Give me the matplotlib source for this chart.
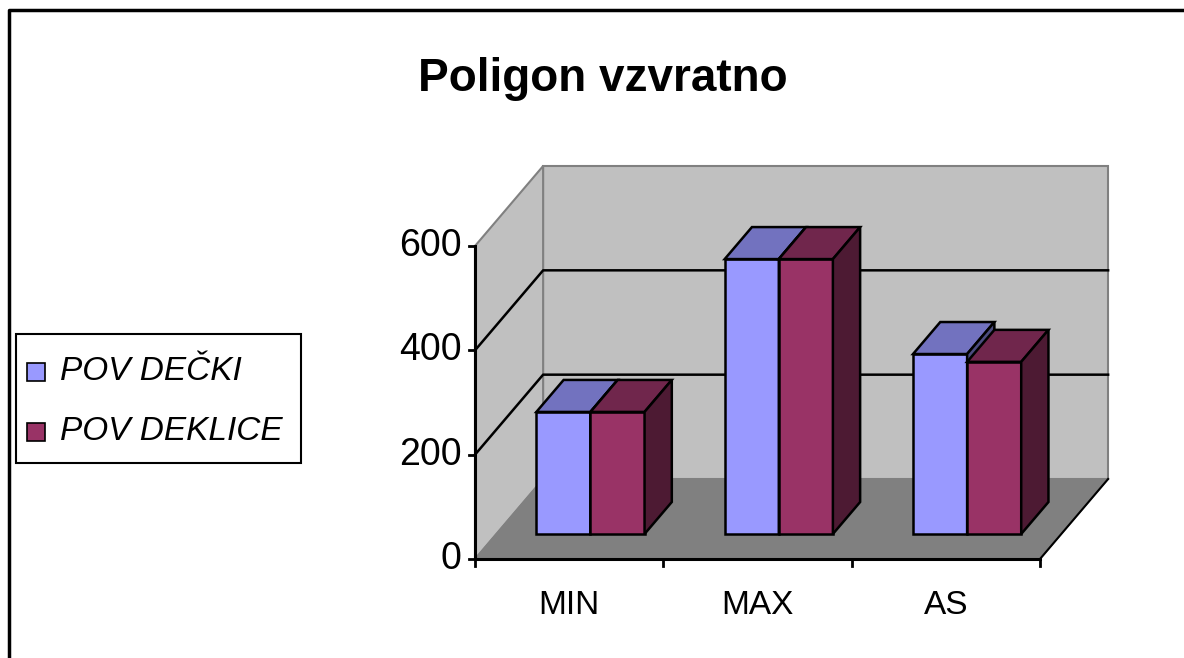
import matplotlib
matplotlib.use("Agg")
import matplotlib.pyplot as plt
from matplotlib.patches import Polygon, Rectangle
from matplotlib.lines import Line2D

categories = ["MIN", "MAX", "AS"]
series_names = ["POV DEČKI", "POV DEKLICE"]
decki = [234, 527, 345]
deklice = [234, 527, 330]
yticks = [0, 200, 400, 600]

fonts = ['Liberation Sans Narrow', 'Liberation Sans', 'DejaVu Sans']

front_cols = ["#9999FF", "#993366"]
top_cols = ["#7272BF", "#70264C"]
side_cols = ["#4C4C80", "#4D1A33"]

W, H = 1184, 658
fig = plt.figure(figsize=(W / 100, H / 100), dpi=100)
# front plot region in pixels: x 475..1040, y 246..559
ax = fig.add_axes([475 / W, (H - 559) / H, 565 / W, 313 / H])
ax.set_xlim(0, 3)
ax.set_ylim(0, 600)
ax.axis("off")

# depth vector (full depth of the box) in data units
DX = 68 / 188
DY = 80 / 313 * 600
z0, zd = 0.3125, 0.40
gap, bw = 40 / 188, 54 / 188
ymax = 600


def poly(pts, fc, ec="none", lw=1.0, z=1):
    ax.add_patch(Polygon(pts, closed=True, facecolor=fc, edgecolor=ec,
                         linewidth=lw, zorder=z, clip_on=False,
                         joinstyle="miter"))


n = len(categories)
# walls
poly([(DX, DY), (n + DX, DY), (n + DX, ymax + DY), (DX, ymax + DY)],
     "#C0C0C0", "#808080", 1.5, 1)
poly([(0, 0), (DX, DY), (DX, ymax + DY), (0, ymax)], "#C0C0C0", "#808080", 1.5, 1)
poly([(0, 0), (n, 0), (n + DX, DY), (DX, DY)], "#808080", "#808080", 1.0, 1)

# gridlines
for v in yticks[1:-1]:
    ax.plot([0, DX, n + DX], [v, v + DY, v + DY], color="black", lw=1.8,
            zorder=2, clip_on=False)

# floor right edge
ax.plot([n, n + DX], [0, DY], color="black", lw=1.5, zorder=2, clip_on=False)

# bars
for i in range(n):
    vals = [decki[i], deklice[i]]
    for s in range(2):
        h = vals[s]
        x0 = i + gap + s * bw + z0 * DX
        x1 = x0 + bw
        yb = z0 * DY
        ox, oy = zd * DX, zd * DY
        zz = 5 + i * 2 + s
        # front
        poly([(x0, yb), (x1, yb), (x1, yb + h), (x0, yb + h)], front_cols[s],
             "black", 1.8, zz)
        # top
        poly([(x0, yb + h), (x1, yb + h), (x1 + ox, yb + h + oy), (x0 + ox, yb + h + oy)],
             top_cols[s], "black", 1.8, zz)
        # side
        poly([(x1, yb), (x1 + ox, yb + oy), (x1 + ox, yb + h + oy), (x1, yb + h)],
             side_cols[s], "black", 1.8, zz)

# axes lines and ticks
ax.plot([0, n], [0, 0], color="black", lw=2.2, zorder=3, clip_on=False)
ax.plot([0, 0], [0, ymax], color="black", lw=2.2, zorder=3, clip_on=False)
tx = 6 / 188
for v in yticks:
    ax.plot([-tx, 0], [v, v], color="black", lw=2, zorder=3, clip_on=False)
    ax.text(-0.07, v, str(v), ha="right", va="center", fontsize=27,
            family=fonts)
ty = 14
for i in range(n + 1):
    ax.plot([i, i], [0, -ty], color="black", lw=2, zorder=3, clip_on=False)
for i, c in enumerate(categories):
    ax.text(i + 0.5, -90, c, ha="center", va="center", fontsize=24,
            family=fonts)

# title
fig.text(603 / W, 1 - 79 / H, "Poligon vzvratno", ha="center", va="center",
         fontsize=33, fontweight="bold", family=fonts)

# legend (drawn by hand to match the box)
fig.add_artist(Rectangle((16 / W, 1 - 463 / H), 285 / W, 129 / H,
                         transform=fig.transFigure, facecolor="white",
                         edgecolor="black", linewidth=1.5))
leg_y = [372, 432]
for k, name in enumerate(series_names):
    yc = leg_y[k]
    fig.add_artist(Rectangle((27 / W, 1 - (yc + 9) / H), 18 / W, 18 / H,
                             transform=fig.transFigure,
                             facecolor=front_cols[k], edgecolor="black",
                             linewidth=1.2))
    fig.text(60 / W, 1 - yc / H, name, ha="left", va="center", fontsize=24,
             style="italic", family=fonts)

# outer frame (top and left edges)
fig.add_artist(Line2D([9 / W, 9 / W, 1], [0, 1 - 10 / H, 1 - 10 / H],
                      transform=fig.transFigure, color="black", lw=2.5))

fig.savefig("out.png", dpi=100)
